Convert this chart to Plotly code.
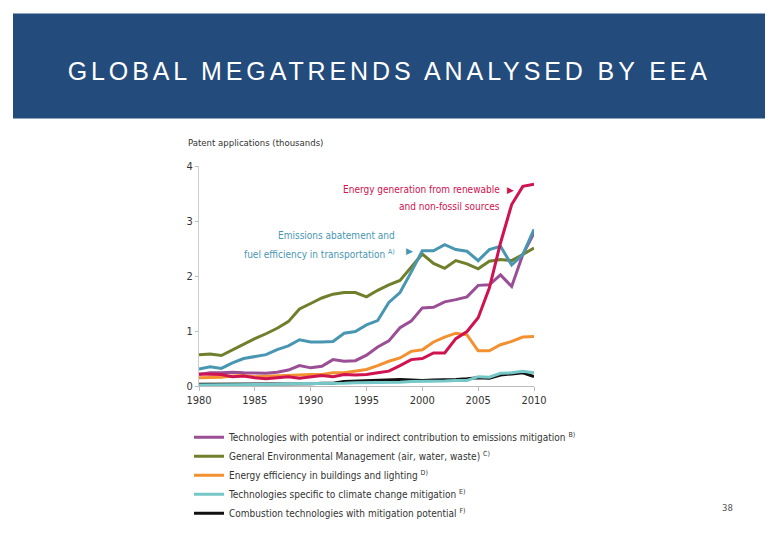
import plotly.graph_objects as go

years = list(range(1980, 2011))

tech_potential = [0.21, 0.24, 0.24, 0.25, 0.24, 0.23, 0.23, 0.25, 0.29, 0.37, 0.33, 0.36, 0.48, 0.45, 0.46, 0.56,
                  0.71, 0.82, 1.06, 1.18, 1.42, 1.43, 1.53, 1.57, 1.62, 1.83, 1.84, 2.02, 1.81, 2.39, 2.78]
general_env = [0.57, 0.58, 0.555, 0.66, 0.75, 0.86, 0.95, 1.05, 1.17, 1.40, 1.50, 1.60, 1.67, 1.70, 1.70, 1.62,
               1.74, 1.84, 1.92, 2.16, 2.40, 2.23, 2.14, 2.28, 2.22, 2.13, 2.27, 2.30, 2.28, 2.39, 2.51]
energy_eff = [0.15, 0.15, 0.16, 0.18, 0.19, 0.17, 0.18, 0.18, 0.19, 0.21, 0.21, 0.21, 0.24, 0.24, 0.27, 0.30,
              0.37, 0.45, 0.51, 0.63, 0.66, 0.80, 0.89, 0.96, 0.93, 0.64, 0.64, 0.75, 0.81, 0.89, 0.90]
climate_specific = [0.02, 0.02, 0.02, 0.03, 0.03, 0.03, 0.03, 0.03, 0.04, 0.04, 0.05, 0.05, 0.05, 0.05, 0.06, 0.06,
                    0.06, 0.07, 0.07, 0.08, 0.08, 0.09, 0.09, 0.10, 0.10, 0.17, 0.16, 0.23, 0.24, 0.27, 0.24]
combustion = [0.03, 0.03, 0.03, 0.03, 0.04, 0.04, 0.04, 0.04, 0.04, 0.04, 0.04, 0.05, 0.05, 0.08, 0.09, 0.10,
              0.10, 0.12, 0.12, 0.11, 0.10, 0.11, 0.11, 0.12, 0.13, 0.15, 0.14, 0.20, 0.22, 0.24, 0.17]
renewable = [0.22, 0.21, 0.21, 0.17, 0.18, 0.15, 0.13, 0.15, 0.17, 0.14, 0.17, 0.19, 0.17, 0.21, 0.20, 0.21,
             0.24, 0.27, 0.37, 0.48, 0.50, 0.60, 0.60, 0.86, 0.99, 1.24, 1.78, 2.60, 3.30, 3.63, 3.67]
transport = [0.31, 0.35, 0.32, 0.42, 0.50, 0.53, 0.57, 0.66, 0.73, 0.84, 0.80, 0.80, 0.81, 0.96, 0.99, 1.11,
             1.19, 1.52, 1.70, 2.07, 2.46, 2.46, 2.57, 2.48, 2.45, 2.28, 2.48, 2.54, 2.20, 2.39, 2.85]

x_ticks = [1980, 1985, 1990, 1995, 2000, 2005, 2010]
y_ticks = [0, 1, 2, 3, 4]

SUP = '<span style="font-size:7px;baseline-shift:super">{}</span>'
legend_names = [
    "Technologies with potential or indirect contribution to emissions mitigation " + SUP.format("B)"),
    "General Environmental Management (air, water, waste) " + SUP.format("C)"),
    "Energy efficiency in buildings and lighting " + SUP.format("D)"),
    "Technologies specific to climate change mitigation " + SUP.format("E)"),
    "Combustion technologies with mitigation potential " + SUP.format("F)"),
]

FONT = "Liberation Sans Narrow, DejaVu Sans Condensed, Arial Narrow, sans-serif"
C_PURPLE = "#9A4E95"
C_GREEN = "#6F7F2B"
C_ORANGE = "#F39130"
C_CYAN = "#76C8C8"
C_BLACK = "#111111"
C_RED = "#CF1250"
C_BLUE = "#4996B2"

W, H = 780, 540
L, R, T, B = 199, 534, 166, 388


def px(xp):
    return (xp - L) / (R - L)


def py(yp):
    return (B - yp) / (B - T)


fig = go.Figure()
series = [
    (combustion, C_BLACK, legend_names[4], True),
    (climate_specific, C_CYAN, legend_names[3], True),
    (energy_eff, C_ORANGE, legend_names[2], True),
    (tech_potential, C_PURPLE, legend_names[0], True),
    (general_env, C_GREEN, legend_names[1], True),
    (transport, C_BLUE, "Emissions abatement and fuel efficiency in transportation A)", False),
    (renewable, C_RED, "Energy generation from renewable and non-fossil sources", False),
]
legend_rank = {legend_names[i]: i for i in range(5)}
for vals, col, name, show in series:
    fig.add_trace(go.Scatter(
        x=years, y=vals, mode="lines", name=name, showlegend=show,
        legendrank=legend_rank.get(name, 100) + 1,
        line=dict(color=col, width=3),
    ))

anns = [
    dict(text="Patent applications (thousands)", x=px(186), y=py(142), xanchor="left", yanchor="middle",
         font=dict(size=9.5, color="#333333", family=FONT)),
    dict(text="Energy generation from renewable", x=px(502), y=py(190), xanchor="right", yanchor="middle",
         font=dict(size=10, color=C_RED, family=FONT)),
    dict(text="and non-fossil sources", x=px(502), y=py(207), xanchor="right", yanchor="middle",
         font=dict(size=10, color=C_RED, family=FONT)),
    dict(text="▶", x=px(510), y=py(190), xanchor="center", yanchor="middle",
         font=dict(size=9, color=C_RED, family="DejaVu Sans")),
    dict(text="Emissions abatement and", x=px(397), y=py(236), xanchor="right", yanchor="middle",
         font=dict(size=10, color=C_BLUE, family=FONT)),
    dict(text="fuel efficiency in transportation " + SUP.format("A)"), x=px(397), y=py(255), xanchor="right",
         yanchor="middle", font=dict(size=10, color=C_BLUE, family=FONT)),
    dict(text="▶", x=px(409), y=py(252), xanchor="center", yanchor="middle",
         font=dict(size=9, color=C_BLUE, family="DejaVu Sans")),
    dict(text="GLOBAL MEGATRENDS ANALYSED BY EEA", x=px(389), y=py(70), xanchor="center", yanchor="middle",
         font=dict(size=25, color="#FFFFFF", family="Liberation Sans, Arial, sans-serif")),
    dict(text="38", x=px(727), y=py(511), xanchor="center", yanchor="middle",
         font=dict(size=9, color="#555555", family="DejaVu Sans Mono, monospace")),
]
for a in anns:
    a.update(xref="paper", yref="paper", showarrow=False)

fig.update_layout(
    width=W, height=H, autosize=False,
    margin=dict(l=L, r=W - R, t=T, b=H - B, pad=0),
    paper_bgcolor="white", plot_bgcolor="white",
    font=dict(family=FONT, size=11, color="#333333"),
    annotations=anns,
    shapes=[dict(type="rect", xref="paper", yref="paper", x0=px(13), x1=px(765), y0=py(118), y1=py(12),
                 fillcolor="#234B7C", line=dict(width=0), layer="below")],
    showlegend=True,
    legend=dict(x=px(189), y=py(425), xanchor="left", yanchor="top", bgcolor="rgba(0,0,0,0)",
                font=dict(size=10, color="#333333", family=FONT), tracegroupgap=0, itemwidth=30,
                traceorder="normal"),
    xaxis=dict(range=[1980, 2010], tickmode="array", tickvals=x_ticks,
               showgrid=False, zeroline=False, showline=True, linecolor="#BBBBBB", linewidth=1,
               ticks="outside", ticklen=4, tickcolor="#BBBBBB", tickfont=dict(size=11, color="#333333"),
               fixedrange=True),
    yaxis=dict(range=[0, 4], tickmode="array", tickvals=y_ticks,
               showgrid=False, zeroline=False, showline=True, linecolor="#CCCCCC", linewidth=1,
               ticks="outside", ticklen=3, tickcolor="#BBBBBB", tickfont=dict(size=11, color="#333333"),
               fixedrange=True),
)

post = """
document.body.style.margin = '0';
var gd = document.getElementById('{plot_id}');
gd.querySelectorAll('text.annotation-text').forEach(function (t) {
  if (t.textContent.indexOf('GLOBAL') === 0) { t.style.letterSpacing = '3.9px'; }
});
"""

fig.write_html("out.html", post_script=post, config={"displayModeBar": False})
